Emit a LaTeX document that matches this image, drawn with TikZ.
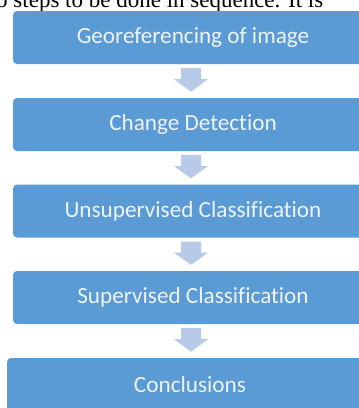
\documentclass[tikz,border=0pt]{standalone}
\usepackage{fontspec}
\setmainfont{Carlito}[Ligatures=NoCommon]
\newfontfamily\serifbody{Liberation Serif}
\usetikzlibrary{calc}

\definecolor{boxblue}{HTML}{5B9BD5}
\definecolor{arrowblue}{HTML}{B7CBE9}
\definecolor{labeltext}{HTML}{EEF3FA}

\tikzset{
  stepbox/.style={rectangle, rounded corners=4pt, fill=boxblue, draw=none,
    minimum width=360pt, minimum height=53pt, inner sep=0pt,
    text=labeltext, font=\fontsize{23.2}{27}\selectfont},
  blockarrow/.style={fill=arrowblue, draw=none},
}

\begin{document}
\begin{tikzpicture}[x=1pt,y=-1pt]
  \useasboundingbox (0,0) rectangle (359,408);
  \clip (0,0) rectangle (359,408);

  % tail end of the preceding paragraph line
  \node[anchor=base west, inner sep=0pt, font=\serifbody\fontsize{23}{27}\selectfont]
    (para) at (-4,7) {o steps to be done in sequence. It is};

  % process steps
  \node[stepbox] (b1) at (193,37.5) {Georeferencing of image};
  \node[stepbox] (b2) at (193,124.5) {Change Detection};
  \node[stepbox] (b3) at (193,211) {Unsupervised Classification};
  \node[stepbox] (b4) at (193,297.5) {Supervised Classification};
  \node[stepbox, minimum width=366pt] (b5) at (190,384.5) {Conclusions};

  % down arrows between consecutive steps
  \foreach \a/\b in {b1/b2, b2/b3, b3/b4, b4/b5} {
    \fill[blockarrow]
      ($(\a.south -| 191,0)+(-10,4)$) -- ($(\a.south -| 191,0)+(10,4)$)
      -- ($(\a.south -| 191,0)+(10,15)$) -- ($(\a.south -| 191,0)+(17,15)$)
      -- ($(\b.north -| 191,0)+(0,-6)$)
      -- ($(\a.south -| 191,0)+(-17,15)$) -- ($(\a.south -| 191,0)+(-10,15)$)
      -- cycle;
  }
\end{tikzpicture}
\end{document}
